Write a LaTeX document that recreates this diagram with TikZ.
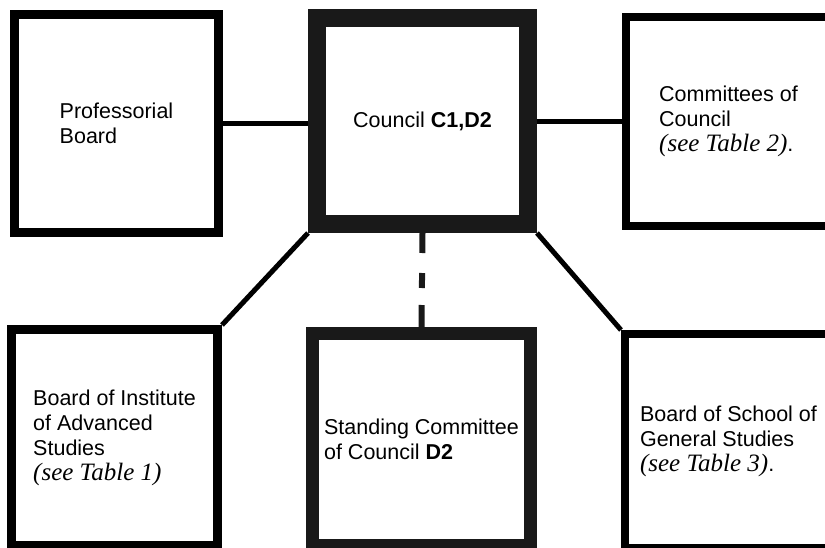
\documentclass[tikz,border=0pt]{standalone}
\usepackage{fontspec}
\setsansfont{Liberation Sans}
\newfontfamily\tablefont{Liberation Serif}
\usetikzlibrary{
  positioning,  % anchors "of" other nodes
  calc,         % Calculations $...$
}
\newcommand{\seetable}[1]{{\tablefont\itshape\fontsize{25}{25}\selectfont (see Table #1)}}
\newcommand{\code}[1]{\textbf{#1}}
\def\mythin{9pt}
\def\mythick{18pt}
\tikzset{
  font=\sffamily\fontsize{21.5}{25}\selectfont,
  x=1pt,y=-1pt,
  my box/.style={
    draw,
    line width=\mythin,
    rectangle,
    align=left,
    inner sep=1pt
  },
  my heavy box/.style={
    my box,
    draw=black!90
  },
  my link/.style={
    line width=5pt
  },
  my dash link/.style={
    draw=black!90,
    line width=6pt,
    dash pattern=on 20pt off 20pt on 15pt off 17pt on 30pt
  }
}
\begin{document}
\begin{tikzpicture}
\useasboundingbox (0,0) rectangle (825,547);
% top row
\node[my box,minimum width=204pt,minimum height=218pt]
  (prof) at (116.5,123.5) {Professorial\\Board};
\node[my heavy box,line width=\mythick,minimum width=211pt,minimum height=206pt]
  (council) at (422.5,121) {Council \code{C1,D2}};
\node[my box,line width=8pt,minimum width=205pt,minimum height=209pt]
  (comm) at (728.5,121.5) {Committees of\\Council\\\seetable{2}.};
% bottom row
\node[my box,minimum width=206pt,minimum height=216pt]
  (inst) at (114.5,437.5) {Board of Institute\\of Advanced\\Studies\\\seetable{1}};
\node[my heavy box,line width=13pt,minimum width=218pt,minimum height=212pt]
  (standing) at (421.5,439.5) {Standing Committee\\of Council \code{D2}};
\node[my box,line width=8pt,minimum width=207pt,minimum height=214pt]
  (school) at (728.5,441) {Board of School of\\General Studies\\\seetable{3}.};
% links
\draw[my link] (prof.east) -- (prof.east -| council.west);
\draw[my link] (council.east) -- (council.east -| comm.west);
\draw[my link] (council.south west) -- (inst.north east);
\draw[my link] (council.south east) -- (school.north west);
\draw[my dash link] (council.south) -- (standing.north);
\end{tikzpicture}
\end{document}
